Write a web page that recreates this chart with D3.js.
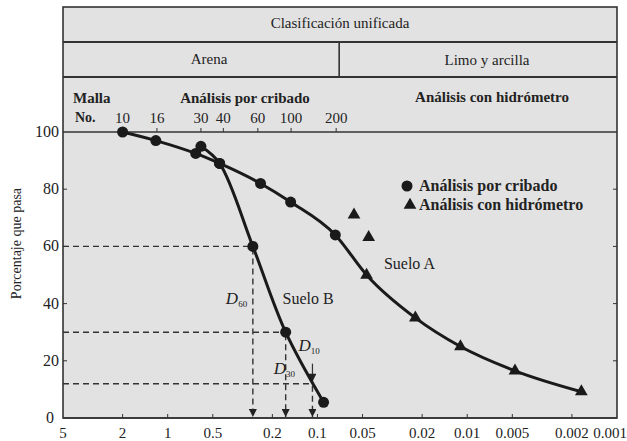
<!DOCTYPE html>
<html><head><meta charset="utf-8">
<script src="https://cdn.jsdelivr.net/npm/d3@7/dist/d3.min.js"></script>
<style>
html,body{margin:0;padding:0;background:#fff;}
text{font-family:"Liberation Serif","DejaVu Serif",serif;fill:#222;}
</style></head>
<body><svg id="c" width="627" height="441"></svg>
<script>
// ---- data ----
const xTickValues = [5, 2, 1, 0.5, 0.2, 0.1, 0.05, 0.02, 0.01, 0.005, 0.002, 0.001];
const xTickLabels = ["5", "2", "1", "0.5", "0.2", "0.1", "0.05", "0.02", "0.01", "0.005", "0.002", "0.001"];
const yTickValues = [0, 20, 40, 60, 80, 100];
const meshNumbers = ["10", "16", "30", "40", "60", "100", "200"];
const meshSizes = [2.0, 1.18, 0.6, 0.425, 0.25, 0.15, 0.075];
// Suelo A
const soilA_sieve = [[2, 100], [1.2, 97], [0.65, 92.5], [0.45, 89], [0.24, 82], [0.151, 75.5], [0.076, 64]];
const soilA_hydro = [[0.047, 50], [0.0222, 35], [0.0111, 25], [0.0048, 16.5], [0.00173, 9.2]];
const soilA_extraHydro = [[0.057, 71], [0.0455, 63.2]];
// Suelo B
const soilB_sieve = [[0.6, 95], [0.45, 89], [0.27, 60], [0.163, 30], [0.091, 5.5]];
// D values for Suelo B
const dNames = ["60", "30", "10"];
const dSizes = [0.27, 0.163, 0.108];
const dPercents = [60, 30, 12];

// ---- layout ----
const svg = d3.select("#c");
const L = 63, R = 617, T = 132, B = 418, HT = 7;
const x = d3.scaleLog().domain([5, 0.001]).range([L, R]);
const y = d3.scaleLinear().domain([0, 100]).range([B, T]);
const ink = "#222";

svg.append("defs").append("marker").attr("id", "arr")
  .attr("viewBox", "0 0 10 10").attr("refX", 10).attr("refY", 5)
  .attr("markerWidth", 9).attr("markerHeight", 8).attr("markerUnits", "userSpaceOnUse")
  .attr("orient", "auto")
  .append("path").attr("d", "M0,0 L10,5 L0,10 Z").attr("fill", ink);

// background
svg.append("rect").attr("x", L).attr("y", HT).attr("width", R - L).attr("height", B - HT).attr("fill", "#e2e2e2");

// header table
const hdr = svg.append("g");
hdr.append("rect").attr("x", L).attr("y", HT).attr("width", R - L).attr("height", B - HT)
  .attr("fill", "none").attr("stroke", "#333").attr("stroke-width", 1.6);
[42, 77].forEach(v => hdr.append("line").attr("x1", L).attr("x2", R).attr("y1", v).attr("y2", v)
  .attr("stroke", "#333").attr("stroke-width", 2));
hdr.append("line").attr("x1", L).attr("x2", R).attr("y1", T).attr("y2", T).attr("stroke", "#333").attr("stroke-width", 1.6);
hdr.append("line").attr("x1", x(0.075) + 3).attr("x2", x(0.075) + 3).attr("y1", 42).attr("y2", 77)
  .attr("stroke", "#333").attr("stroke-width", 1.6);
hdr.append("text").attr("x", (L + R) / 2).attr("y", 28).attr("text-anchor", "middle").attr("font-size", 15).text("Clasificación unificada");
hdr.append("text").attr("x", 209).attr("y", 64).attr("text-anchor", "middle").attr("font-size", 15).text("Arena");
hdr.append("text").attr("x", 487).attr("y", 65).attr("text-anchor", "middle").attr("font-size", 15).text("Limo y arcilla");
hdr.append("text").attr("x", 73).attr("y", 103).attr("font-size", 15).attr("font-weight", "bold").text("Malla");
hdr.append("text").attr("x", 75).attr("y", 122).attr("font-size", 14).attr("font-weight", "bold").text("No.");
hdr.append("text").attr("x", 245).attr("y", 103).attr("text-anchor", "middle").attr("font-size", 15).attr("font-weight", "bold").text("Análisis por cribado");
hdr.append("text").attr("x", 492).attr("y", 102).attr("text-anchor", "middle").attr("font-size", 15).attr("font-weight", "bold").text("Análisis con hidrómetro");

// top mesh axis
const topAx = svg.append("g");
meshSizes.forEach((m, i) => {
  topAx.append("line").attr("x1", x(m)).attr("x2", x(m)).attr("y1", T).attr("y2", T - 4).attr("stroke", "#333").attr("stroke-width", 1);
  topAx.append("text").attr("x", x(m)).attr("y", 123).attr("text-anchor", "middle").attr("font-size", 15).text(meshNumbers[i]);
});

// bottom axis
const bAx = svg.append("g");
xTickValues.forEach((v, i) => {
  const last = i === xTickValues.length - 1;
  if (i > 0 && !last)
    bAx.append("line").attr("x1", x(v)).attr("x2", x(v)).attr("y1", B).attr("y2", B - 4).attr("stroke", "#333").attr("stroke-width", 1);
  bAx.append("text").attr("x", last ? x(v) + 10 : x(v)).attr("y", 438)
    .attr("text-anchor", last ? "end" : "middle").attr("font-size", 15).text(xTickLabels[i]);
});
// left/right axes
const lAx = svg.append("g");
yTickValues.forEach(v => {
  if (v > 0 && v < 100) {
    lAx.append("line").attr("x1", L).attr("x2", L + 4).attr("y1", y(v)).attr("y2", y(v)).attr("stroke", "#333");
    lAx.append("line").attr("x1", R).attr("x2", R - 4).attr("y1", y(v)).attr("y2", y(v)).attr("stroke", "#333");
  }
  lAx.append("text").attr("x", v === 0 ? 54 : 59).attr("y", y(v) + 5).attr("text-anchor", "end").attr("font-size", 16).text(v);
});
svg.append("text").attr("transform", `translate(21,${y(61)}) rotate(-90)`).attr("text-anchor", "middle")
  .attr("font-size", 14).text("Porcentaje que pasa");

// bottom axis line
svg.append("line").attr("x1", L).attr("x2", R).attr("y1", B).attr("y2", B).attr("stroke", "#333").attr("stroke-width", 1.6);

// dashed guides
const g = svg.append("g").attr("stroke", "#333").attr("stroke-width", 1.4).attr("fill", "none");
dSizes.forEach((d, i) => {
  g.append("line").attr("x1", L).attr("x2", x(d)).attr("y1", y(dPercents[i])).attr("y2", y(dPercents[i]))
    .attr("stroke-dasharray", "6,4");
  g.append("line").attr("x1", x(d)).attr("x2", x(d)).attr("y1", y(dPercents[i]) + 2).attr("y2", B - 1)
    .attr("stroke-dasharray", "6,4").attr("marker-end", "url(#arr)");
});
// D10 solid pointer arrow
g.append("line").attr("x1", x(dSizes[2])).attr("x2", x(dSizes[2])).attr("y1", y(dPercents[2] + 7)).attr("y2", y(dPercents[2]) - 2)
  .attr("stroke-width", 1.2).attr("marker-end", "url(#arr)");

// curves
const line = d3.line().x(d => x(d[0])).y(d => y(d[1])).curve(d3.curveMonotoneX);
const curveA = soilA_sieve.concat(soilA_hydro);
svg.append("path").attr("d", line(curveA)).attr("fill", "none").attr("stroke", "#1a1a1a").attr("stroke-width", 3);
const lineB = d3.line().x(d => x(d[0])).y(d => y(d[1])).curve(d3.curveCatmullRom.alpha(0.5));
svg.append("path").attr("d", lineB(soilB_sieve)).attr("fill", "none").attr("stroke", "#1a1a1a").attr("stroke-width", 3);

// markers
const circ = svg.append("g").attr("fill", "#1a1a1a");
soilA_sieve.concat(soilB_sieve).forEach(d => circ.append("circle").attr("cx", x(d[0])).attr("cy", y(d[1])).attr("r", 5.5));
const tri = d3.symbol().type(d3.symbolTriangle).size(70);
soilA_hydro.concat(soilA_extraHydro).forEach(d =>
  svg.append("path").attr("d", tri()).attr("transform", `translate(${x(d[0])},${y(d[1])})`).attr("fill", "#1a1a1a"));

// labels
svg.append("text").attr("x", x(0.036)).attr("y", y(52)).attr("font-size", 16).text("Suelo A");
svg.append("text").attr("x", x(0.171)).attr("y", y(40)).attr("font-size", 16).text("Suelo B");
function dLabel(xp, yp, sub) {
  const t = svg.append("text").attr("x", xp).attr("y", yp).attr("font-size", 17).attr("font-style", "italic");
  t.append("tspan").text("D");
  t.append("tspan").attr("font-size", 9).attr("dy", 3).attr("font-style", "normal").text(sub);
}
dLabel(x(dSizes[0]) - 27, y(40), dNames[0]);
dLabel(x(dSizes[1]) - 12, y(15.5), dNames[1]);
dLabel(x(dSizes[2]) - 14, y(23.5), dNames[2]);

// legend
const lg = svg.append("g");
lg.append("circle").attr("cx", 407).attr("cy", 186).attr("r", 5.5).attr("fill", "#1a1a1a");
lg.append("text").attr("x", 419).attr("y", 191).attr("font-size", 16).attr("font-weight", "bold").text("Análisis por cribado");
lg.append("path").attr("d", tri()).attr("transform", "translate(410,205)").attr("fill", "#1a1a1a");
lg.append("text").attr("x", 419).attr("y", 210).attr("font-size", 16).attr("font-weight", "bold").text("Análisis con hidrómetro");
</script></body></html>
